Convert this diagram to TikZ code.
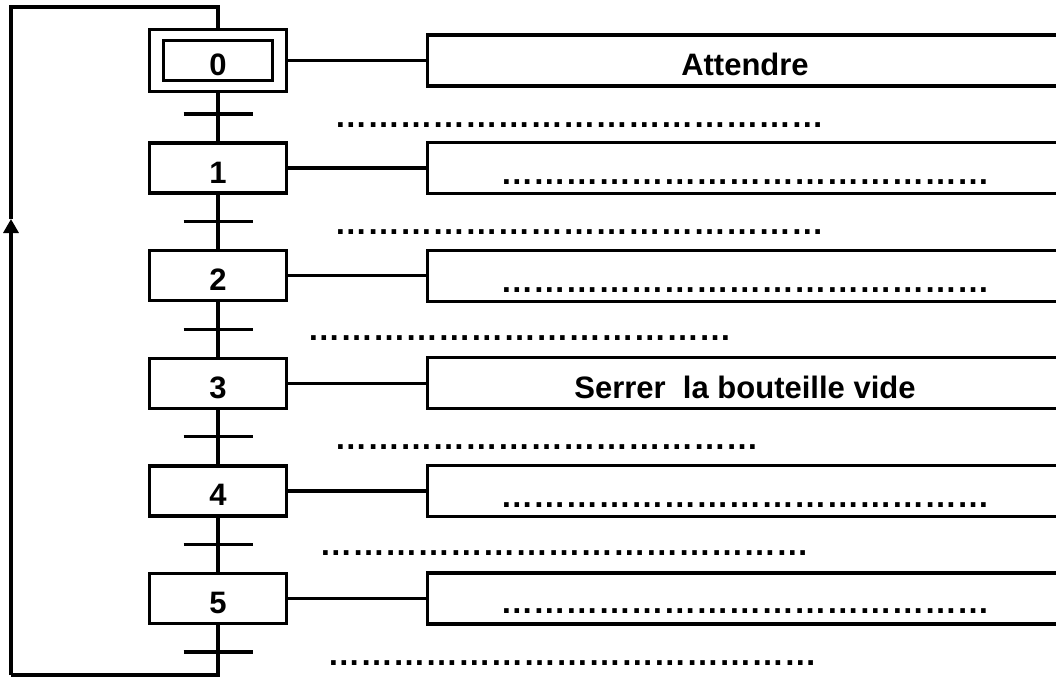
\documentclass[tikz,border=0pt]{standalone}
\usepackage{fontspec}
\setmainfont{Liberation Sans}
\usetikzlibrary{positioning,arrows.meta}

\newcommand{\pointilles}[1]{\foreach \k in {1,...,#1}{…}}

\begin{document}
\begin{tikzpicture}[x=1pt,y=-1pt,line width=3.3pt,node distance={107.6pt and 527pt},on grid,
  every node/.style={font=\fontsize{31}{37}\selectfont\bfseries,text height=30pt,text depth=0pt},
  etape/.style={draw,minimum width=137pt,minimum height=50pt,inner sep=0pt},
  action/.style={draw,minimum width=635pt,minimum height=51pt,inner sep=0pt},
  points/.style={font=\fontsize{32.6}{37}\selectfont\bfseries,inner sep=0pt,text height=,text depth=}]
\useasboundingbox (0,0) rectangle (1056,677);

% etapes
\node[etape,minimum height=62pt] (s0) at (218,60.5) {};
\node[etape,minimum width=109pt,minimum height=40pt] (s0i) at (s0) {0};
\node[etape] (s1) [below=of s0] {1};
\node[etape] (s2) [below=of s1] {2};
\node[etape] (s3) [below=of s2] {3};
\node[etape] (s4) [below=of s3] {4};
\node[etape] (s5) [below=of s4] {5};

% actions
\node[action] (a0) [right=of s0] {Attendre};
\node[action] (a1) [right=of s1] {};
\node[action] (a2) [right=of s2] {};
\node[action] (a3) [right=of s3] {Serrer\ \ la bouteille vide};
\node[action] (a4) [right=of s4] {};
\node[action] (a5) [right=of s5] {};
\node[points] (p1) [below=14pt of a1] {\pointilles{15}};
\node[points] (p2) [below=14pt of a2] {\pointilles{15}};
\node[points] (p4) [below=14pt of a4] {\pointilles{15}};
\node[points] (p5) [below=13pt of a5] {\pointilles{15}};

% transitions
\foreach \i in {0,...,5}
  \coordinate[below=53.5pt of s\i] (t\i);
\node[points,anchor=west] (r0) at (333,125) {\pointilles{15}};
\node[points,anchor=west] (r1) at (333,232) {\pointilles{15}};
\node[points,anchor=west] (r2) at (306,338) {\pointilles{13}};
\node[points,anchor=west] (r3) at (333,447) {\pointilles{13}};
\node[points,anchor=west] (r4) at (318,553) {\pointilles{15}};
\node[points,anchor=west] (r5) at (326,663) {\pointilles{15}};

\draw (s0) -- (s1) -- (s2) -- (s3) -- (s4) -- (s5) -- (t5);
\foreach \i in {0,...,5}
  \draw ([xshift=-34.5pt]t\i) -- ([xshift=34.5pt]t\i);
\foreach \i in {0,...,5}
  \draw (s\i) -- (a\i);

% retour
\coordinate (bas) at (218,675);
\coordinate (basg) at (11,675);
\coordinate (fleche) at (11,219);
\coordinate (hautg) at (11,7);
\coordinate (hautd) at (218,7);
\draw (t5) -- (bas) -- (basg);
\draw[-{Triangle[width=15pt,length=14pt]}] (basg) -- (fleche);
\draw (fleche) -- (hautg) -- (hautd) -- (s0);
\end{tikzpicture}
\end{document}
